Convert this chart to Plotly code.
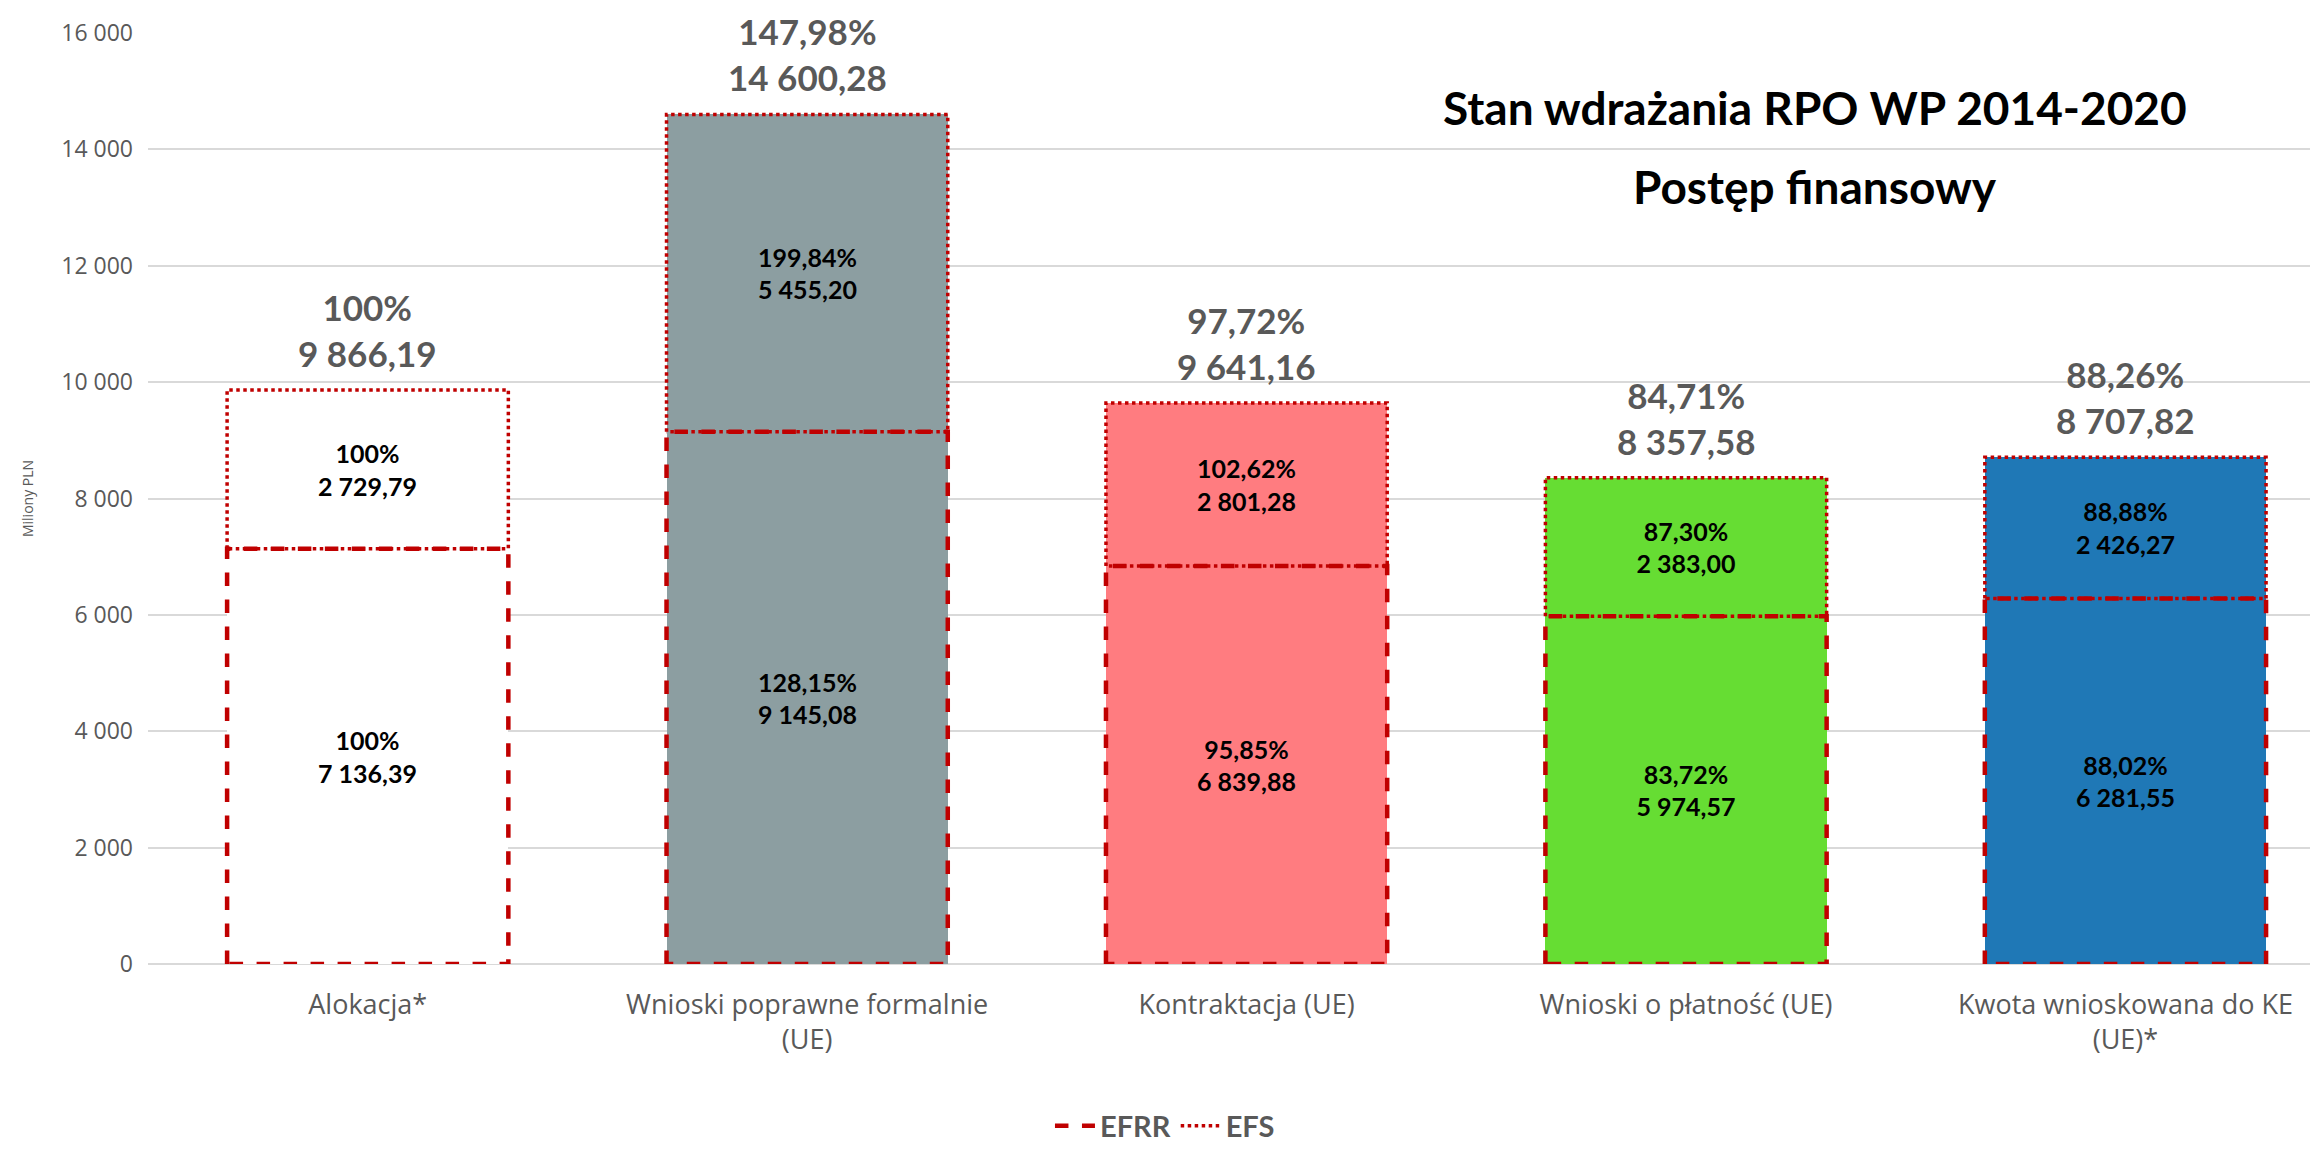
"""Stan wdrażania RPO WP 2014-2020 - postęp finansowy (EFRR / EFS)."""
import plotly.graph_objects as go

CATEGORIES = [
    "Alokacja*",
    "Wnioski poprawne formalnie<br>(UE)",
    "Kontraktacja (UE)",
    "Wnioski o płatność (UE)",
    "Kwota wnioskowana do KE<br>(UE)*",
]
EFRR = [7136.39, 9145.08, 6839.88, 5974.57, 6281.55]
EFS = [2729.79, 5455.20, 2801.28, 2383.00, 2426.27]
TOTAL = [9866.19, 14600.28, 9641.16, 8357.58, 8707.82]
EFRR_PCT = ["100%", "128,15%", "95,85%", "83,72%", "88,02%"]
EFS_PCT = ["100%", "199,84%", "102,62%", "87,30%", "88,88%"]
TOTAL_PCT = ["100%", "147,98%", "97,72%", "84,71%", "88,26%"]
BAR_COLORS = ["#FFFFFF", "#8C9EA1", "#FF7C80", "#66DD33", "#1F78B6"]

RED = "#C00000"
GREY = "#595959"
BAR_W = 0.64


def pl(v):
    return f"{v:,.2f}".replace(",", " ").replace(".", ",")


def outline(bottoms, tops):
    xs, ys = [], []
    for i, (b, t) in enumerate(zip(bottoms, tops)):
        l, r = i - BAR_W / 2, i + BAR_W / 2
        xs += [l, l, r, r, l, None]
        ys += [b, t, t, b, b, None]
    return xs, ys


def main():
    idx = list(range(len(CATEGORIES)))
    fig = go.Figure()

    for vals, pcts in ((EFRR, EFRR_PCT), (EFS, EFS_PCT)):
        fig.add_trace(go.Bar(
            x=idx, y=vals, width=BAR_W, marker=dict(color=BAR_COLORS, line_width=0),
            text=[f"<b>{p}<br>{pl(v)}</b>" for p, v in zip(pcts, vals)],
            textposition="inside", insidetextanchor="middle", textangle=0,
            textfont=dict(family="Lato", size=25, color="black"),
            showlegend=False, hoverinfo="skip",
        ))

    xs, ys = outline([0] * len(EFRR), EFRR)
    fig.add_trace(go.Scatter(x=xs, y=ys, mode="lines", name="<b>EFRR</b>",
                             line=dict(color=RED, width=4.5, dash="dash"),
                             hoverinfo="skip"))
    xs, ys = outline(EFRR, TOTAL)
    fig.add_trace(go.Scatter(x=xs, y=ys, mode="lines", name="<b>EFS</b>",
                             line=dict(color=RED, width=3.5, dash="dot"),
                             hoverinfo="skip"))

    # totals above each bar
    for i, (p, v) in enumerate(zip(TOTAL_PCT, TOTAL)):
        fig.add_annotation(
            x=i, y=v, xref="x", yref="y", showarrow=False,
            text=f"<b>{p}<br>{pl(v)}</b>", yanchor="bottom", yshift=14,
            font=dict(family="Lato", size=35, color=GREY),
        )

    for txt, yy in (("Stan wdrażania RPO WP 2014-2020", 0.920), ("Postęp finansowy", 0.835)):
        fig.add_annotation(
            x=0.767, y=yy, xref="paper", yref="paper", showarrow=False,
            text=f"<b>{txt}</b>", xanchor="center", yanchor="middle",
            font=dict(family="Lato", size=46, color="black"),
        )

    fig.update_layout(
        width=2318, height=1149,
        margin=dict(l=140, r=5, t=25, b=182),
        barmode="stack", bargap=0,
        plot_bgcolor="white", paper_bgcolor="white",
        separators=", ",
        legend=dict(orientation="h", x=0.468, xanchor="center", y=-0.174,
                    yanchor="middle", font=dict(family="Lato", size=29, color=GREY),
                    itemwidth=40, traceorder="normal"),
    )
    fig.update_xaxes(
        range=[-0.5, 4.445], tickvals=idx, ticktext=CATEGORIES,
        tickfont=dict(family="Open Sans", size=27, color=GREY),
        showgrid=False, zeroline=False, showline=False, ticks="",
        ticklabelstandoff=22,
    )
    fig.update_yaxes(
        range=[0, 16000], tickvals=list(range(0, 16001, 2000)), tickformat=",d",
        tickfont=dict(family="Open Sans", size=23, color=GREY),
        showgrid=True, gridcolor="#D9D9D9", gridwidth=1.5, zeroline=True,
        zerolinecolor="#D9D9D9", zerolinewidth=1.5,
        ticks="", ticklabelstandoff=14,
        title=dict(text="Miliony PLN", font=dict(family="Open Sans", size=14, color=GREY),
                   standoff=24),
    )
    fig.write_html("out.html")


if __name__ == "__main__":
    main()
